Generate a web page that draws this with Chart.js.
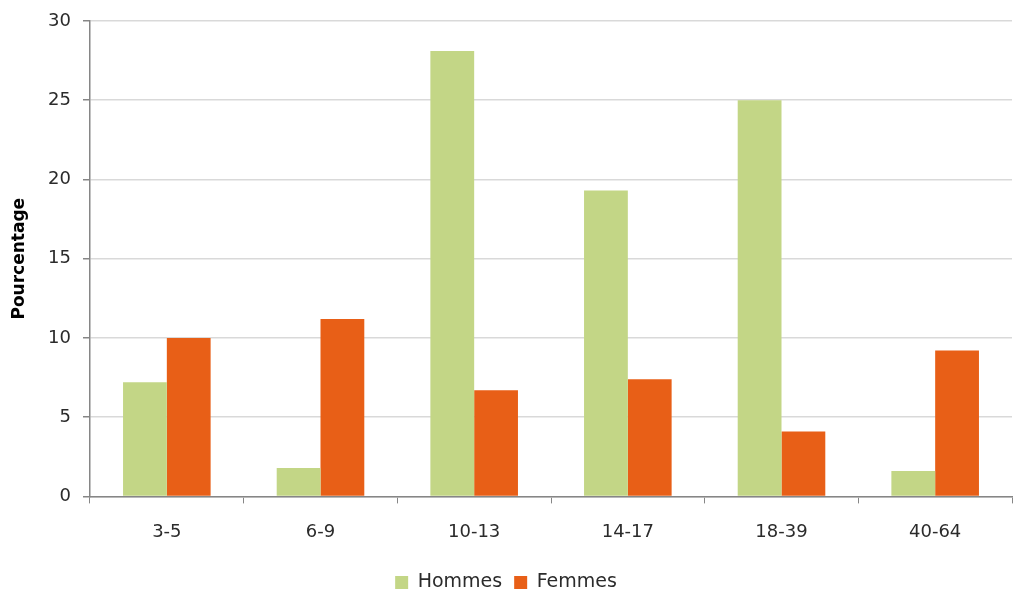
<!DOCTYPE html>
<html>
<head>
<meta charset="utf-8">
<script src="https://cdn.jsdelivr.net/npm/chart.js@4"></script>
<style>
  html, body { margin: 0; padding: 0; background: #fff; }
  #wrap { width: 1014px; height: 595px; position: relative; }
</style>
</head>
<body>
<div id="wrap"><canvas id="chart"></canvas></div>
<script>
const ageGroups = ['3-5', '6-9', '10-13', '14-17', '18-39', '40-64'];
const hommes = [7.2, 1.8, 28.1, 19.3, 25.0, 1.6];
const femmes = [10.0, 11.2, 6.7, 7.4, 4.1, 9.2];
const yTicks = [0, 5, 10, 15, 20, 25, 30];

const fontFamily = "'DejaVu Sans', 'Open Sans', sans-serif";
const axisColor = '#868686';
const gridColor = '#d9d9d9';
const textColor = '#2b2b2b';

const ctx = document.getElementById('chart').getContext('2d');
new Chart(ctx, {
  type: 'bar',
  data: {
    labels: ageGroups,
    datasets: [
      {
        label: 'Hommes',
        data: hommes,
        backgroundColor: '#c3d686',
        categoryPercentage: 0.57,
        barPercentage: 1,
      },
      {
        label: 'Femmes',
        data: femmes,
        backgroundColor: '#e85f17',
        categoryPercentage: 0.57,
        barPercentage: 1,
      },
    ],
  },
  options: {
    responsive: true,
    maintainAspectRatio: false,
    animation: false,
    layout: { padding: { left: 0, right: 2, top: 20, bottom: -7 } },
    plugins: {
      tooltip: { enabled: false },
      legend: {
        position: 'bottom',
        labels: {
          boxWidth: 13,
          boxHeight: 13,
          padding: 12,
          color: textColor,
          font: { family: fontFamily, size: 19 },
        },
      },
    },
    scales: {
      x: {
        offset: true,
        grid: {
          offset: true,
          drawOnChartArea: false,
          color: axisColor,
          tickLength: 7,
        },
        border: { color: axisColor, width: 1.5 },
        ticks: {
          color: textColor,
          padding: 18,
          font: { family: fontFamily, size: 18 },
        },
      },
      y: {
        min: 0,
        max: 30,
        afterBuildTicks(axis) {
          axis.ticks = yTicks.map((v) => ({ value: v }));
        },
        afterFit(axis) {
          axis.width = 90;
        },
        grid: {
          color: gridColor,
          lineWidth: 1.5,
          tickLength: 7,
          tickColor: axisColor,
        },
        border: { color: axisColor, width: 1.5 },
        ticks: {
          color: textColor,
          padding: 12,
          font: { family: fontFamily, size: 18, lineHeight: 1 },
        },
        title: {
          display: true,
          text: 'Pourcentage',
          color: '#000',
          padding: { top: 9, bottom: 0 },
          font: { family: fontFamily, size: 17, weight: 'bold' },
        },
      },
    },
  },
});
</script>
</body>
</html>
